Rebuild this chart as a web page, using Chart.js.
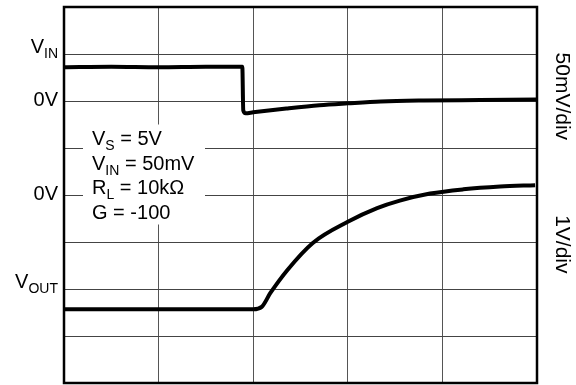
<!DOCTYPE html>
<html>
<head>
<meta charset="utf-8">
<script src="https://cdn.jsdelivr.net/npm/chart.js@4.4.0/dist/chart.umd.min.js"></script>
<style>
  html, body { margin: 0; padding: 0; background: #fff; }
  #wrap { width: 576px; height: 385px; }
</style>
</head>
<body>
<div id="wrap"><canvas id="scope-chart" width="576" height="385"></canvas></div>
<script>
// time axis in divisions (0..5), vertical axis in divisions (0..8)
const vinX = [0, 0.5, 1, 1.5, 1.885, 1.895, 1.92, 2.0, 2.35, 2.7, 3.0, 3.35, 3.8, 4.4, 5.0];
const vinY = [6.72, 6.73, 6.72, 6.73, 6.73, 5.8, 5.74, 5.76, 5.84, 5.91, 5.95, 5.99, 6.01, 6.02, 6.03];

const voutX = [0, 1, 2.0, 2.09, 2.18, 2.36, 2.63, 3.0, 3.31, 3.55, 3.87, 4.22, 4.61, 4.98];
const voutY = [1.57, 1.57, 1.57, 1.62, 1.91, 2.4, 2.98, 3.43, 3.72, 3.88, 4.03, 4.12, 4.18, 4.21];

// left labels: [text parts, y division]
const leftLabels = [
  [[["V", 0], ["IN", 1]], 7],
  [[["0V", 0]], 6],
  [[["0V", 0]], 4],
  [[["V", 0], ["OUT", 1]], 2],
];
const rightLabels = [["50mV/div", 6.1], ["1V/div", 2.95]];
const noteLines = [
  [["V", 0], ["S", 1], [" = 5V", 0]],
  [["V", 0], ["IN", 1], [" = 50mV", 0]],
  [["R", 0], ["L", 1], [" = 10kΩ", 0]],
  [["G = -100", 0]],
];

const FONT = '"Liberation Sans", Arial, sans-serif';

function toPoints(xs, ys) {
  return xs.map((x, i) => ({ x: x, y: ys[i] }));
}

function partsWidth(ctx, parts) {
  let w = 0;
  parts.forEach(([t, sub]) => {
    ctx.font = (sub ? 14 : 20) + "px " + FONT;
    w += ctx.measureText(t).width;
  });
  return w;
}

function drawParts(ctx, parts, x, y) {
  let cx = x;
  parts.forEach(([t, sub]) => {
    ctx.font = (sub ? 14 : 20) + "px " + FONT;
    ctx.fillText(t, cx, sub ? y + 5 : y);
    cx += ctx.measureText(t).width;
  });
}

const scopeDecor = {
  id: "scopeDecor",
  beforeDatasetsDraw(chart) {
    const { ctx, chartArea, scales } = chart;
    // white box behind the conditions text
    ctx.save();
    ctx.fillStyle = "#fff";
    ctx.fillRect(chartArea.left + 19, scales.y.getPixelForValue(5.5), 122, 100);
    ctx.restore();
  },
  afterDraw(chart) {
    const { ctx, chartArea, scales } = chart;
    ctx.save();
    ctx.strokeStyle = "#000";
    ctx.lineWidth = 2.5;
    ctx.strokeRect(chartArea.left, chartArea.top, chartArea.right - chartArea.left, chartArea.bottom - chartArea.top);

    ctx.fillStyle = "#000";
    ctx.textBaseline = "alphabetic";
    ctx.textAlign = "left";
    leftLabels.forEach(([parts, v]) => {
      const w = partsWidth(ctx, parts);
      const y = scales.y.getPixelForValue(v) + (parts.length > 1 ? -1 : 5);
      drawParts(ctx, parts, chartArea.left - 6 - w, y);
    });

    noteLines.forEach((parts, i) => {
      drawParts(ctx, parts, chartArea.left + 28, 145 + i * 24.5);
    });

    ctx.font = "21px " + FONT;
    ctx.textAlign = "center";
    ctx.textBaseline = "middle";
    rightLabels.forEach(([t, v]) => {
      ctx.save();
      ctx.translate(chartArea.right + 25, scales.y.getPixelForValue(v));
      ctx.rotate(Math.PI / 2);
      ctx.fillText(t, 0, 0);
      ctx.restore();
    });
    ctx.restore();
  },
};

const ctx = document.getElementById("scope-chart").getContext("2d");

const scopeChart = new Chart(ctx, {
  type: "line",
  data: {
    datasets: [
      {
        label: "VIN",
        data: toPoints(vinX, vinY),
        borderColor: "#000",
        borderWidth: 4,
        pointRadius: 0,
        cubicInterpolationMode: "monotone",
      },
      {
        label: "VOUT",
        data: toPoints(voutX, voutY),
        borderColor: "#000",
        borderWidth: 4,
        pointRadius: 0,
        cubicInterpolationMode: "monotone",
      },
    ],
  },
  options: {
    responsive: false,
    animation: false,
    layout: {
      padding: { left: 64, right: 39, top: 7, bottom: 2 },
    },
    plugins: {
      legend: { display: false },
      tooltip: { enabled: false },
    },
    scales: {
      x: {
        type: "linear",
        min: 0,
        max: 5,
        ticks: { display: false, stepSize: 1 },
        grid: { color: "#555", lineWidth: 1, drawTicks: false },
        border: { display: false },
      },
      y: {
        type: "linear",
        min: 0,
        max: 8,
        ticks: { display: false, stepSize: 1 },
        grid: { color: "#444", lineWidth: 1, drawTicks: false },
        border: { display: false },
      },
    },
  },
  plugins: [scopeDecor],
});
</script>
</body>
</html>
